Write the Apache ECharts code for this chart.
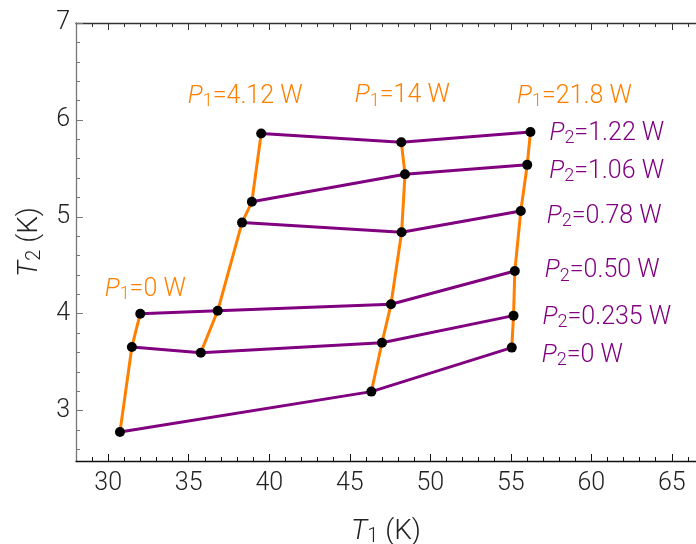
<!DOCTYPE html>
<html><head><meta charset="utf-8">
<script src="https://cdn.jsdelivr.net/npm/echarts@6/dist/echarts.min.js"></script>
<style>html,body{margin:0;padding:0;background:#fff}#c{width:696px;height:544px}</style>
</head><body><div id="c"></div>
<script>
// ---- data ----
const p1Levels = ['0', '4.12', '14', '21.8'];            // columns
const p2Levels = ['0', '0.235', '0.50', '0.78', '1.06', '1.22']; // rows
const T1 = [
  [30.73, null, 46.34, 55.06],
  [31.47, 35.75, 47.00, 55.17],
  [31.99, 36.80, 47.56, 55.25],
  [null, 38.31, 48.22, 55.62],
  [null, 38.92, 48.43, 56.02],
  [null, 39.50, 48.20, 56.22]
];
const T2 = [
  [2.78, null, 3.196, 3.65],
  [3.657, 3.598, 3.70, 3.98],
  [4.00, 4.03, 4.097, 4.44],
  [null, 4.94, 4.84, 5.06],
  [null, 5.155, 5.44, 5.536],
  [null, 5.86, 5.77, 5.876]
];
const xMajorTicks = [30, 35, 40, 45, 50, 55, 60, 65];
const xMinorTicks = [29, 31, 32, 33, 34, 36, 37, 38, 39, 41, 42, 43, 44, 46, 47, 48, 49, 51, 52, 53, 54, 56, 57, 58, 59, 61, 62, 63, 64, 66];
const yMajorTicks = [3, 4, 5, 6, 7];
const yMinorTicks = [2.6, 2.8, 3.2, 3.4, 3.6, 3.8, 4.2, 4.4, 4.6, 4.8, 5.2, 5.4, 5.6, 5.8, 6.2, 6.4, 6.6, 6.8];

// ---- styles ----
const FONT = 'Roboto';
const ORANGE = '#FF8000';
const PURPLE = '#800080';
const AX = '#222';
const p1Offsets = [[5, -24], [-16, -37], [1, -46], [44, -35]];
const p2Offsets = [[30, 8], [29, 2], [30, 0], [26, 6], [22, 7], [19, 2]];

function rich(color) {
  return {
    i: {fontFamily: FONT, fontWeight: 300, fontStyle: 'italic', fontSize: 25, color},
    s: {fontFamily: FONT, fontWeight: 300, fontSize: 18, color, padding: [10, 0, 0, 0]},
    n: {fontFamily: FONT, fontWeight: 300, fontSize: 25, color}
  };
}

const series = [];
// constant P1 (orange)
p1Levels.forEach((p1, j) => {
  const pts = [];
  for (let i = 0; i < p2Levels.length; i++) if (T1[i][j] != null) pts.push([T1[i][j], T2[i][j]]);
  const last = pts[pts.length - 1];
  series.push({
    type: 'line', xAxisIndex: 0, yAxisIndex: 0, data: pts, showSymbol: false, z: 2,
    lineStyle: {color: ORANGE, width: 3}, silent: true, animation: false,
    markPoint: {
      symbol: 'circle', symbolSize: 1, itemStyle: {color: 'transparent'}, animation: false,
      data: [{coord: last, label: {show: true, position: 'inside', offset: p1Offsets[j], align: 'center', verticalAlign: 'middle',
        formatter: '{i|P}{s|1}{n|=' + p1 + ' W}', rich: rich(ORANGE)}}]
    }
  });
});
// constant P2 (purple)
p2Levels.forEach((p2, i) => {
  const pts = [];
  for (let j = 0; j < p1Levels.length; j++) if (T1[i][j] != null) pts.push([T1[i][j], T2[i][j]]);
  const last = pts[pts.length - 1];
  series.push({
    type: 'line', xAxisIndex: 0, yAxisIndex: 0, data: pts, showSymbol: false, z: 3,
    lineStyle: {color: PURPLE, width: 3}, silent: true, animation: false,
    markPoint: {
      symbol: 'circle', symbolSize: 1, itemStyle: {color: 'transparent'}, animation: false,
      data: [{coord: last, label: {show: true, position: 'inside', offset: p2Offsets[i], align: 'left', verticalAlign: 'middle',
        formatter: '{i|P}{s|2}{n|=' + p2 + ' W}', rich: rich(PURPLE)}}]
    }
  });
});
// points
const allPts = [];
for (let i = 0; i < p2Levels.length; i++) for (let j = 0; j < p1Levels.length; j++)
  if (T1[i][j] != null) allPts.push([T1[i][j], T2[i][j]]);
series.push({type: 'scatter', xAxisIndex: 0, yAxisIndex: 0, data: allPts, symbolSize: 10, z: 5,
  itemStyle: {color: '#000', opacity: 1}, silent: true, animation: false});

const gridBox = {left: 76, right: 0, top: 23, bottom: 83, outerBoundsMode: 'none', containLabel: false};
const XMIN = 28, XMAX = 66.5, YMIN = 2.48, YMAX = 7;

function xAx(grid, pos, ticks, len, labels, lineShow, color) {
  return {
    type: 'value', gridIndex: grid, position: pos, min: XMIN, max: XMAX,
    axisLine: {show: lineShow, lineStyle: {color: color, width: 1.3}},
    axisTick: {show: true, inside: true, length: len, customValues: ticks, lineStyle: {color: color, width: 1}},
    axisLabel: labels ? {show: true, customValues: ticks, fontFamily: FONT, fontWeight: 300, fontSize: 25, color: AX, margin: 10}
                      : {show: false},
    splitLine: {show: false}
  };
}
function yAx(grid, ticks, len, labels, lineShow, color) {
  return {
    type: 'value', gridIndex: grid, position: 'left', min: YMIN, max: YMAX,
    axisLine: {show: lineShow, lineStyle: {color: color, width: 1.3}},
    axisTick: {show: true, inside: true, length: len, customValues: ticks, lineStyle: {color: color, width: 1}},
    axisLabel: labels ? {show: true, customValues: ticks, fontFamily: FONT, fontWeight: 300, fontSize: 25, color: AX, margin: 6}
                      : {show: false},
    splitLine: {show: false}
  };
}

const titleStyle = {rich: {
  i: {fontFamily: FONT, fontWeight: 300, fontStyle: 'italic', fontSize: 28, color: AX},
  s: {fontFamily: FONT, fontWeight: 300, fontSize: 20, color: AX, padding: [11, 0, 0, 0]},
  n: {fontFamily: FONT, fontWeight: 300, fontSize: 28, color: AX}}};
const xMain = xAx(0, 'bottom', xMajorTicks, 7, true, true, '#111');
xMain.name = '{i|T}{s|1}{n| (K)}';
xMain.nameLocation = 'middle';
xMain.nameGap = 55;
xMain.nameTextStyle = titleStyle;
const yMain = yAx(0, yMajorTicks, 7, true, true, '#777');
yMain.name = '{i|T}{s|2}{n| (K)}';
yMain.nameLocation = 'middle';
yMain.nameGap = 30;
yMain.nameTextStyle = titleStyle;

const option = {
  animation: false,
  backgroundColor: '#fff',
  grid: [Object.assign({}, gridBox), Object.assign({}, gridBox)],
  xAxis: [
    xMain,
    xAx(0, 'top', xMajorTicks, 7, false, true, '#333'),
    xAx(1, 'bottom', xMinorTicks, 4, false, false, '#111'),
    xAx(1, 'top', xMinorTicks, 4, false, false, '#333')
  ],
  yAxis: [
    yMain,
    yAx(1, yMinorTicks, 4, false, false, '#777')
  ],
  series: series
};
const chart = echarts.init(document.getElementById('c'), null, {renderer: 'canvas'});
chart.setOption(option);
</script>
</body></html>
